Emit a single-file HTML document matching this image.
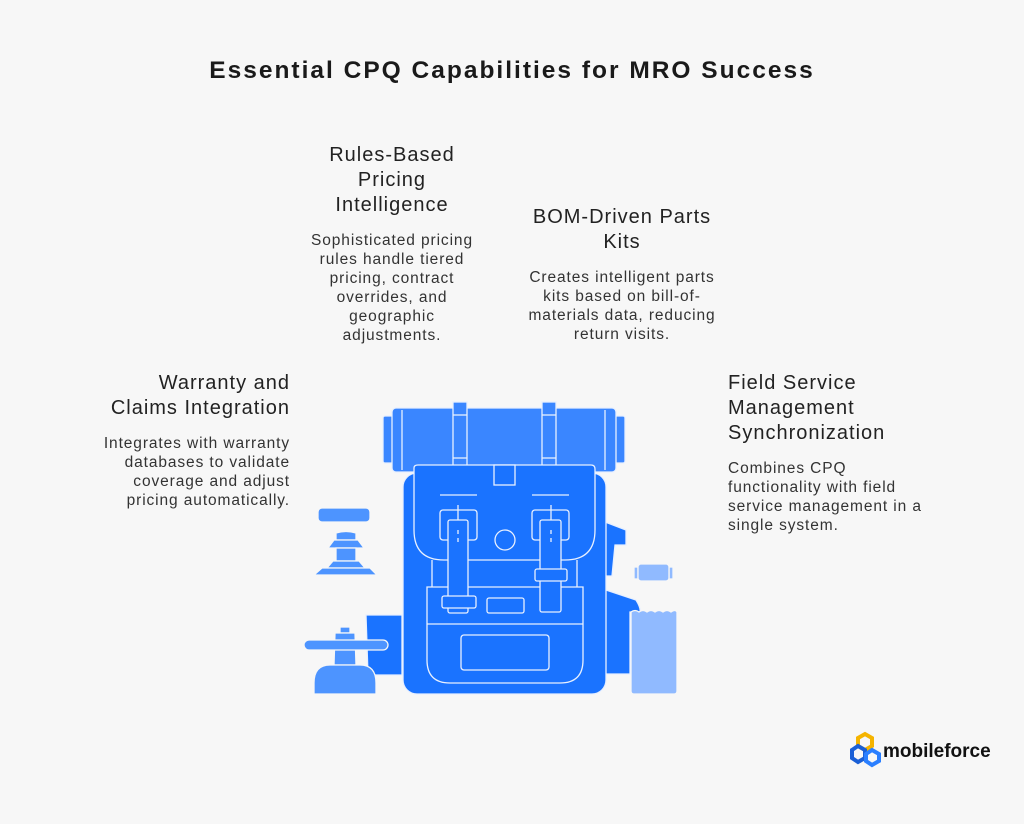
<!DOCTYPE html>
<html><head><meta charset="utf-8"><style>
body{margin:0;width:1024px;height:824px;background:#f7f7f7;font-family:"Liberation Sans",sans-serif;color:#222;position:relative;overflow:hidden}
.t{position:absolute;white-space:nowrap}
.h{font-size:20px;line-height:25px;color:#222;letter-spacing:1px}
.b{font-size:15.5px;line-height:19px;color:#333;letter-spacing:0.9px}
</style></head><body>
<div class="t" style="left:0;width:1024px;top:57px;text-align:center;font-size:24.5px;font-weight:bold;color:#1a1a1a;letter-spacing:2px">Essential CPQ Capabilities for MRO Success</div>

<div class="t h" style="left:272px;width:240px;top:143px;text-align:center">Rules-Based<br>Pricing<br>Intelligence</div>
<div class="t b" style="left:272px;width:240px;top:231px;text-align:center">Sophisticated pricing<br>rules handle tiered<br>pricing, contract<br>overrides, and<br>geographic<br>adjustments.</div>

<div class="t h" style="left:502px;width:240px;top:205px;text-align:center">BOM-Driven Parts<br>Kits</div>
<div class="t b" style="left:502px;width:240px;top:268px;text-align:center">Creates intelligent parts<br>kits based on bill-of-<br>materials data, reducing<br>return visits.</div>

<div class="t h" style="left:40px;width:250px;top:371px;text-align:right">Warranty and<br>Claims Integration</div>
<div class="t b" style="left:40px;width:250px;top:434px;text-align:right">Integrates with warranty<br>databases to validate<br>coverage and adjust<br>pricing automatically.</div>

<div class="t h" style="left:728px;top:371px">Field Service<br>Management<br>Synchronization</div>
<div class="t b" style="left:728px;top:459px">Combines CPQ<br>functionality with field<br>service management in a<br>single system.</div>

<svg style="position:absolute;left:0;top:0" width="1024" height="824">
<g stroke="#e8f0ff" stroke-width="1.3" fill="none">
<path d="M600 520 L626 530 L626 545 L615 545 L612 576 L600 576 Z" fill="#1a73ff"/>
<path d="M600 588 L636 600 Q641 608 640 612 L630 612 L630 674 L600 674 Z" fill="#1a73ff"/>
<path d="M366 615 L402 615 L402 675 L368 675 Z" fill="#1a73ff"/>
<rect x="383" y="416" width="12" height="47" rx="2" fill="#3a86ff"/>
<rect x="613" y="416" width="12" height="47" rx="2" fill="#3a86ff"/>
<rect x="392" y="408" width="224" height="64" rx="4" fill="#3a86ff"/>
<line x1="402" y1="410" x2="402" y2="470"/><line x1="605" y1="410" x2="605" y2="470"/>
<rect x="453" y="402" width="14" height="70" fill="#3a86ff"/>
<rect x="542" y="402" width="14" height="70" fill="#3a86ff"/>
<line x1="453" y1="415" x2="467" y2="415"/><line x1="453" y1="458" x2="467" y2="458"/>
<line x1="542" y1="415" x2="556" y2="415"/><line x1="542" y1="458" x2="556" y2="458"/>
<rect x="403" y="473" width="203" height="221" rx="14" fill="#1a73ff"/>
<path d="M414 468 Q414 465 418 465 L591 465 Q595 465 595 469 L595 530 Q595 560 565 560 L444 560 Q414 560 414 530 Z" fill="#1a73ff"/>
<rect x="494" y="465" width="21" height="20" fill="#1a73ff"/>
<line x1="432" y1="560" x2="432" y2="587"/><line x1="577" y1="560" x2="577" y2="587"/>
<path d="M427 587 L583 587 L583 660 Q583 683 560 683 L450 683 Q427 683 427 660 Z"/>
<line x1="427" y1="624" x2="583" y2="624"/>
<rect x="461" y="635" width="88" height="35" rx="3"/>
<circle cx="505" cy="540" r="10"/>
<rect x="487" y="598" width="37" height="15" rx="2"/>
<line x1="440" y1="495" x2="477" y2="495"/>
<rect x="440" y="510" width="37" height="30" rx="3"/>
<rect x="448" y="520" width="20" height="93" rx="2" fill="#1a73ff"/>
<line x1="458" y1="505" x2="458" y2="520"/><line x1="458" y1="530" x2="458" y2="545" stroke-dasharray="4 4"/>
<rect x="442" y="596" width="34" height="12" rx="2" fill="#1a73ff"/>
<line x1="532" y1="495" x2="569" y2="495"/>
<rect x="532" y="510" width="37" height="30" rx="3"/>
<rect x="540" y="520" width="21" height="92" rx="2" fill="#1a73ff"/>
<line x1="551" y1="505" x2="551" y2="520"/><line x1="551" y1="530" x2="551" y2="545" stroke-dasharray="4 4"/>
<rect x="535" y="569" width="32" height="12" rx="2" fill="#1a73ff"/>
</g>
<g fill="#4d94ff" stroke="#f7f7f7" stroke-width="1.3">
<rect x="318" y="508" width="52" height="14" rx="4"/>
<path d="M336 533 Q346 530 356 533 L356 540 L336 540 Z"/>
<path d="M328 548 L334 540 L358 540 L364 548 Z"/>
<rect x="336" y="548" width="20" height="13"/>
<path d="M327 568 L333 561 L359 561 L365 568 Z"/>
<path d="M314 575 L322 568 L370 568 L377 575 Z"/>
<rect x="340" y="627" width="10" height="6"/>
<path d="M335 633 L355 633 L356 665 L334 665 Z"/>
<path d="M314 683 Q314 665 330 665 L360 665 Q376 665 376 683 L376 694 L314 694 Z"/>
<rect x="304" y="640" width="84" height="10" rx="5"/>
<rect x="634" y="567" width="4" height="12" fill="#90baff"/>
<rect x="669" y="567" width="4" height="12" fill="#90baff"/>
<rect x="638" y="564" width="31" height="17" rx="3" fill="#90baff"/>
<path d="M631 612 Q635 609 639 612 Q643 609 647 612 Q651 609 655 612 Q659 609 663 612 Q667 609 671 612 Q675 609 677 612 L677 691 Q677 694 674 694 L634 694 Q631 694 631 691 Z" fill="#90baff"/>
</g>
<g fill="none" stroke-width="4">
<polygon points="858,738 865,734 872,738 872,746 865,750 858,746" stroke="#f5b400"/>
<polygon points="852,750 858,746 865,750 865,758 858,762 852,758" stroke="#1a5fd6"/>
<polygon points="866,754 872,750 879,754 879,761 872,765 866,761" stroke="#2a7fff"/>
</g>
<text x="883" y="757" font-family="Liberation Sans" font-weight="bold" font-size="19" fill="#111">mobileforce</text>
</svg>
</body></html>
